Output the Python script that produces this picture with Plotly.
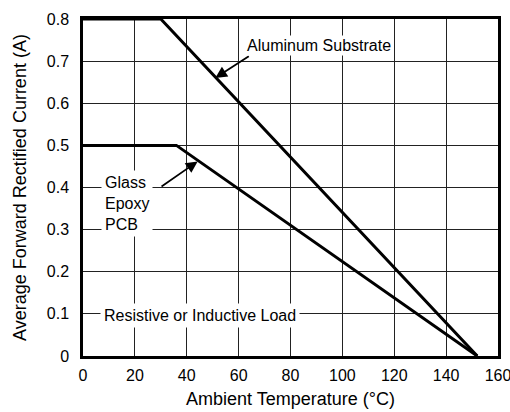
import plotly.graph_objects as go

# Data
alum_x = [0, 30, 152]
alum_y = [0.8, 0.8, 0.0]
glass_x = [0, 36, 152]
glass_y = [0.5, 0.5, 0.0]
x_ticks = [0, 20, 40, 60, 80, 100, 120, 140, 160]
y_ticks = [0, 0.1, 0.2, 0.3, 0.4, 0.5, 0.6, 0.7, 0.8]
y_labels = ["0", "0.1", "0.2", "0.3", "0.4", "0.5", "0.6", "0.7", "0.8"]

FONT = "Liberation Sans, Arial, sans-serif"

fig = go.Figure()
fig.add_trace(go.Scatter(x=alum_x, y=alum_y, mode="lines",
                         line=dict(color="black", width=3), showlegend=False))
fig.add_trace(go.Scatter(x=glass_x, y=glass_y, mode="lines",
                         line=dict(color="black", width=3), showlegend=False))

# Arrows
fig.add_annotation(x=51, y=0.66, ax=64.5, ay=0.714, xref="x", yref="y",
                   axref="x", ayref="y", text="", showarrow=True,
                   arrowhead=2, arrowsize=1.3, arrowwidth=1.8, arrowcolor="black")
fig.add_annotation(x=44.2, y=0.462, ax=29.7, ay=0.40, xref="x", yref="y",
                   axref="x", ayref="y", text="", showarrow=True,
                   arrowhead=2, arrowsize=1.3, arrowwidth=1.8, arrowcolor="black")

# Labels
fig.add_annotation(x=62.3, y=0.738, text="Aluminum Substrate", showarrow=False,
                   xanchor="left", yanchor="middle", bgcolor="white",
                   font=dict(family=FONT, size=16, color="black"), borderpad=1)
fig.add_annotation(x=7.0, y=0.362, text="Glass<br>Epoxy<br>PCB", showarrow=False,
                   xanchor="left", yanchor="middle", align="left", bgcolor="white",
                   font=dict(family=FONT, size=16, color="black"), borderpad=3)
fig.add_annotation(x=6.5, y=0.096, text="Resistive or Inductive Load", showarrow=False,
                   xanchor="left", yanchor="middle", bgcolor="white",
                   font=dict(family=FONT, size=16, color="black"), borderpad=3)

fig.update_layout(
    width=510, height=412,
    margin=dict(l=83, r=12, t=19, b=56),
    paper_bgcolor="white", plot_bgcolor="white",
    font=dict(family=FONT, size=16, color="black"),
    xaxis=dict(range=[0, 160], tickvals=x_ticks, showgrid=True, gridcolor="#222",
               gridwidth=1, showline=True, linecolor="black", linewidth=2.5,
               mirror=True, ticks="", zeroline=False, ticklabelstandoff=3,
               ticklabeloverflow="allow", automargin=False,
               title=dict(text="Ambient Temperature (°C)", font=dict(size=18), standoff=10)),
    yaxis=dict(range=[0, 0.8], tickvals=y_ticks, ticktext=y_labels, showgrid=True,
               gridcolor="#222", gridwidth=1, showline=True, linecolor="black",
               linewidth=2.5, mirror=True, ticks="", zeroline=False, ticklabelstandoff=8,
               automargin=False,
               title=dict(text="Average Forward Rectified Current (A)", font=dict(size=18),
                          standoff=16)),
)

fig.write_html(
    "out.html",
    config={"displayModeBar": False},
    post_script="document.body.style.margin='0';document.body.style.overflow='hidden';",
)
